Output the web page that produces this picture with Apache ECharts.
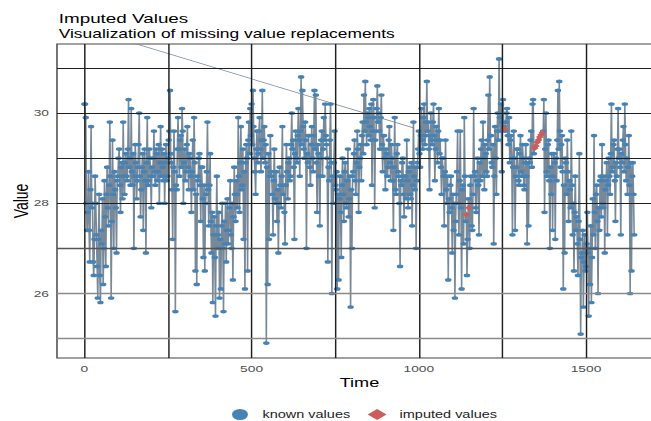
<!DOCTYPE html>
<html>
<head>
<meta charset="utf-8">
<script src="https://cdn.jsdelivr.net/npm/echarts@6/dist/echarts.min.js"></script>
<style>
  html, body { margin: 0; padding: 0; width: 651px; height: 421px; overflow: hidden; background: #ffffff; }
  /* the plot is laid out narrow and stretched horizontally */
  #chart { width: 500px; height: 421px; transform: scaleX(1.45); transform-origin: 0 0; }
</style>
</head>
<body>
<div id="chart"></div>
<script>
// Observed series, one reading every 2 time units (null = missing reading)
const timeStep = 2;
const knownValues = [
  30.2, 30.2, 29.9, 28.0, 27.4, 27.8, 28.7, 27.4, 26.7, 28.3, 29.7, 27.9, 28.0, 26.7, 26.4, 27.2, 28.6, 28.0, 27.3, 26.6,
  25.9, 27.2, 28.2, 26.4, 25.8, 27.4, 27.1, 28.1, 26.2, 27.0, 28.5, 27.7, 26.6, 28.2, 28.8, 27.9, 27.5, 28.4, 29.8, 28.6,
  25.9, 27.6, 29.4, 28.2, 27.0, 28.7, 28.3, 27.9, 26.9, 28.5, 28.6, 29.0, 29.2, 28.4, 27.8, 28.8, 28.9, 28.1, 29.8, 28.6,
  28.2, 28.9, 29.1, 28.6, 28.5, 29.2, 30.3, 28.8, 29.0, 28.4, 30.1, 28.7, 28.4, 29.1, 27.0, 28.6, 29.3, 28.9, 28.1, 28.5,
  28.8, 29.3, 30.0, 28.6, 27.7, 28.3, 28.8, 29.1, 27.4, 28.7, 29.2, 28.5, 26.9, 28.9, 29.9, 28.4, 28.5, 29.2, 29.0, 28.6,
  27.9, 28.8, 28.6, 29.0, 29.6, 28.7, 28.4, 29.2, 29.1, 28.5, 28.7, 29.3, 28.0, 28.9, 29.7, 28.6, 29.2, 28.8, 28.5, 29.1,
  28.0, 28.9, 29.3, 28.5, 28.6, 29.0, 29.4, 29.6, 30.5, 29.1, 28.9, 28.3, 27.2, 28.8, 29.6, 28.7, 25.6, 28.4, 28.3, 29.2,
  29.9, 29.2, 28.6, 29.4, 29.5, 28.8, 30.1, 29.6, 28.0, 28.9, 29.2, 28.5, 28.7, 29.3, 29.7, 28.8, 28.3, 29.1, 29.0, 28.6,
  27.8, 28.7, 29.4, 28.3, 29.9, 28.9, 26.5, 28.2, 26.2, 28.6, 28.5, 29.0, 29.1, 28.4, 27.6, 28.8, 28.8, 28.1, 26.8, 28.4,
  26.5, 28.0, 28.2, 28.7, 29.8, 28.3, 27.5, 28.4, 29.1, 27.6, 26.9, 27.8, 25.8, 27.3, 27.7, 26.8, 25.5, 27.5, 28.6, 27.0,
  27.3, 27.8, 25.9, 27.2, 26.1, 27.5, 28.0, 27.0, 25.6, 27.6, 27.1, 28.0, 26.7, 27.4, 28.1, 27.1, 27.4, 27.9, 28.5, 27.3,
  27.0, 28.0, 26.3, 27.7, 28.8, 28.2, 27.6, 28.5, 28.2, 27.9, 29.9, 28.6, 27.8, 28.9, 29.7, 28.3, 28.4, 29.2, 27.2, 28.7,
  26.1, 28.9, 29.3, 29.0, 26.5, 29.4, 29.8, 29.1, 30.1, 29.5, 30.2, 29.3, 30.5, 29.7, 29.0, 28.7, 28.2, 29.2, 29.6, 28.9,
  29.1, 29.6, 29.9, 29.2, 28.7, 29.4, 30.5, 29.0, 29.4, 29.7, 28.9, 29.3, 24.9, 28.8, 26.2, 29.1, 27.2, 28.6, 29.5, 28.7,
  28.6, 28.2, 27.3, 28.5, 29.2, 28.1, 28.0, 28.7, 27.6, 28.3, 26.9, 28.0, 28.8, 28.4, 27.9, 28.6, 29.7, 28.2, 28.4, 27.8,
  27.1, 28.4, 29.3, 28.7, 28.1, 28.9, 29.0, 28.5, 28.6, 29.3, 30.0, 29.2, 29.4, 28.8, 27.2, 29.1, 29.6, 29.0, 28.9, 29.5,
  30.1, 29.4, 28.6, 29.6, 30.8, 29.3, 30.5, 29.7, 29.2, 29.0, 29.8, 29.4, 27.0, 29.1, 28.9, 29.5, 29.5, 28.8, 28.4, 29.3,
  29.7, 29.0, 28.7, 29.5, 30.5, 29.2, 30.4, 28.9, 27.8, 29.3, 29.1, 28.6, 27.5, 29.0, 29.4, 29.6, 28.6, 29.2, 29.9, 29.4,
  30.2, 29.5, 29.3, 29.0, 26.7, 28.8, 28.5, 29.4, 30.2, 28.9, 26.0, 28.6, 28.0, 28.9, 29.6, 28.4, 28.3, 28.7, 26.1, 28.2,
  26.3, 28.1, 28.6, 27.8, 26.8, 28.4, 29.0, 28.2, 27.6, 28.7, 28.9, 28.0, 27.9, 28.5, 29.2, 27.7, 28.1, 28.6, 25.7, 28.3,
  27.0, 28.6, 28.7, 29.1, 29.4, 28.5, 28.2, 28.9, 29.6, 29.2, 27.8, 28.8, 29.0, 29.3, 28.5, 29.5, 29.8, 29.1, 30.4, 29.6,
  30.7, 29.8, 29.3, 30.0, 29.9, 29.5, 30.1, 29.7, 29.4, 30.2, 28.4, 29.6, 30.3, 29.9, 27.9, 29.4, 29.6, 30.1, 30.6, 29.8,
  30.0, 29.6, 29.2, 29.9, 30.4, 29.3, 28.7, 29.5, 29.5, 29.0, 28.3, 29.2, 29.1, 28.6, 28.8, 29.4, 29.7, 28.9, 28.5, 29.3,
  29.0, 28.5, 27.4, 28.8, 29.9, 28.3, 28.2, 29.1, 29.3, 28.7, 28.6, 28.0, 26.6, 28.5, 28.4, 28.9, 29.0, 28.2, 27.7, 28.6,
  28.6, 28.1, 29.4, 28.5, 27.9, 28.7, 28.8, 28.2, 28.1, 28.9, 27.5, 28.4, 29.8, 28.6, 28.3, 28.8, 27.0, 28.5, 28.9, 29.2,
  29.6, 29.1, 28.8, 29.5, 30.1, 29.4, 29.2, 29.9, 30.2, 29.3, 29.5, 29.8, 30.7, 29.6, 29.8, 29.2, 28.3, 29.5, 30.0, 29.4,
  29.3, 29.8, 30.2, 29.5, 28.5, 29.2, 29.7, 29.4, 28.9, 29.6, 30.1, 29.1, 29.4, 28.8, 28.2, 29.0, 29.0, 28.6, 27.5, 28.7,
  29.4, 28.3, 28.0, 28.6, 26.3, 28.1, 27.8, 28.4, 28.6, 27.9, 26.9, 28.2, 27.4, 28.0, 25.9, 27.6, 28.2, 28.7, 29.6, 28.0,
  27.3, 28.5, 29.6, 27.9, 26.1, 28.3, 28.4, 27.1, 29.9, 28.6, 27.6, null, 26.4, 27.2, 28.1, null, 27.0, 28.4, 28.6, 27.5,
  27.4, 28.2, 30.1, 28.6, 28.7, 27.9, 27.8, 28.5, 29.0, 28.4, 27.3, 28.9, 28.5, 29.2, 29.4, 28.6, 29.8, 29.0, 28.3, 29.3,
  29.1, 28.7, 28.6, 29.4, 30.4, 29.2, 30.8, 29.5, 29.5, 28.9, 28.8, 29.3, 27.1, 28.6, 29.7, 29.0, 28.2, 29.6, 30.0, 29.4,
  31.2, 29.9, 29.6, 30.2, 28.7, 29.8, 30.3, 29.7, null, 29.6, 29.8, 30.0, 30.1, 29.5, 29.3, 29.9, 28.9, 29.4, 29.5, 29.0,
  27.3, 28.8, 29.6, 29.0, 27.4, 28.6, 28.8, 29.2, 29.2, 28.5, 28.4, 29.1, 29.5, 28.7, 28.6, 29.3, 29.0, 28.4, 28.3, 28.9,
  29.3, 28.6, 27.1, 28.9, 27.5, 29.0, 28.9, 29.4, 29.6, 28.8, 30.2, 30.3, 29.1, null, null, null, null, null, null, null,
  null, null, null, null, null, null, 29.6, 30.3, 27.8, 29.2, 30.0, 28.7, 28.6, 29.3, 29.4, 28.5, 27.0, 28.8, 28.2, 29.1,
  27.4, 28.6, 29.1, 28.9, 27.2, 29.0, 28.5, 29.4, 30.5, 29.2, 30.7, 29.6, 28.8, 29.3, 29.5, 28.7, 26.1, 28.4, 26.9, 29.0,
  28.9, 28.2, 29.4, 28.7, 27.6, 28.5, 28.3, 27.9, 29.6, 28.4, 27.3, 28.0, 26.5, 27.8, 28.6, 27.4, 27.7, 27.1, 26.4, 27.6,
  29.1, 27.2, 25.1, 26.8, 26.9, 27.4, 25.7, 26.7, 27.3, 26.5, 26.6, 27.1, 27.8, 26.9, 25.5, 27.0, 26.2, 27.5, 25.8, 26.8,
  28.1, 27.3, 29.5, 27.8, 27.0, 28.2, 28.4, 27.6, 26.0, 27.9, 27.4, 28.5, 28.6, 27.7, 29.3, 28.0, 27.9, 28.6, 26.9, 28.3,
  28.5, 28.9, 27.3, 28.4, 29.0, 28.6, 28.2, 29.1, 30.2, 28.7, 28.8, 29.3, 29.4, 28.5, 27.6, 28.9, 28.6, 29.2, 30.1, 29.0,
  29.2, 28.8, 27.3, 29.1, 28.9, 29.4, 29.7, 28.7, 30.2, 29.3, 28.5, 29.0, 28.2, 28.8, 29.5, 28.4, 26.0, 28.9, 26.5, 28.6,
  28.9, 28.2, 27.3
];

// Replacements for the missing readings
const imputedTimes  = [1142, 1150, 1256, 1346, 1350, 1354, 1358, 1362, 1366, 1370];
const imputedValues = [27.75, 27.9, 29.65, 29.22, 29.27, 29.35, 29.40, 29.47, 29.52, 29.57];

// Long connector segment that enters from above the panel
const strayTimes  = [0, 984];
const strayValues = [31.88, 29.67];

// Axis ticks and grid
const xTickValues = [0, 500, 1000, 1500];
const yTickValues = [26, 28, 30];
const xGridValues = [0, 250, 500, 750, 1000, 1250, 1500];
const yGridValues = [25, 26, 27, 28, 29, 30, 31];

const knownPoints = [];
knownValues.forEach((v, i) => { if (v !== null) knownPoints.push([i * timeStep, v]); });
const imputedPoints = imputedTimes.map((t, i) => [t, imputedValues[i]]);
const linePoints = knownPoints.concat(imputedPoints).sort((a, b) => a[0] - b[0]);
const strayPoints = strayTimes.map((t, i) => [t, strayValues[i]]);

const ellipse = 'path://M0,10A10,10 0 1,0 20,10A10,10 0 1,0 0,10Z';
const FONT = 'Liberation Sans, Arial, sans-serif';

const gridLineColor = v => (v >= 28 ? '#1f1f1f' : v === 27 ? '#555555' : '#8a8a8a');

const chart = echarts.init(document.getElementById('chart'), null, { renderer: 'svg' });
chart.setOption({
  animation: false,
  backgroundColor: '#ffffff',
  textStyle: { fontFamily: FONT },
  title: [
    { text: 'Imputed Values', left: 35.5, top: 7,
      textStyle: { fontSize: 13, fontWeight: 'normal', color: '#000', fontFamily: FONT } },
    { text: 'Visualization of missing value replacements', left: 35.5, top: 22.5,
      textStyle: { fontSize: 12, fontWeight: 'normal', color: '#000', fontFamily: FONT } }
  ],
  grid: { left: 39.3, top: 44, width: 417.2, height: 314, show: true, outerBoundsMode: 'none',
          borderColor: '#444', borderWidth: 1, backgroundColor: '#fff' },
  legend: {
    left: 155, top: 404, itemGap: 12, itemWidth: 13, itemHeight: 11,
    textStyle: { fontSize: 10, color: '#222', fontFamily: FONT, padding: [0, 0, 0, 4] },
    data: [
      { name: 'known values', icon: ellipse },
      { name: 'imputed values', icon: 'diamond' }
    ]
  },
  xAxis: {
    type: 'value', min: -82, max: 1727,
    name: 'Time', nameLocation: 'middle', nameGap: 18, nameMoveOverlap: false,
    nameTextStyle: { fontSize: 12.5, color: '#000', fontFamily: FONT },
    axisLine: { show: false }, axisTick: { show: false }, splitLine: { show: false },
    axisLabel: { customValues: xTickValues, margin: 6, fontSize: 9.5, color: '#4d4d4d', fontFamily: FONT,
                 formatter: v => String(v) }
  },
  yAxis: {
    type: 'value', min: 24.57, max: 31.53,
    name: 'Value', nameLocation: 'middle', nameRotate: 90, nameGap: 18, nameMoveOverlap: false,
    nameTextStyle: { fontSize: 14, color: '#000', fontFamily: FONT },
    axisLine: { show: false }, axisTick: { show: false }, splitLine: { show: false },
    axisLabel: { customValues: yTickValues, margin: 5.5, fontSize: 9.5, color: '#4d4d4d', fontFamily: FONT,
                 formatter: v => String(v) }
  },
  series: [
    {
      type: 'line', z: 1, data: strayPoints, symbol: 'none', clip: true, silent: true,
      lineStyle: { color: '#778899', width: 0.7 },
      markLine: {
        silent: true, symbol: ['none', 'none'], label: { show: false }, animation: false,
        data: xGridValues.map(v => ({ xAxis: v, lineStyle: { color: '#1f1f1f', width: 1, type: 'solid' } }))
          .concat(yGridValues.map(v => ({ yAxis: v, lineStyle: { color: gridLineColor(v), width: v >= 28 ? 1 : 1.3, type: 'solid' } })))
      }
    },
    {
      type: 'line', z: 2, data: linePoints, symbol: 'none', clip: true, silent: true,
      lineStyle: { color: '#778899', width: 1.1 }
    },
    {
      name: 'known values', type: 'scatter', z: 3, data: knownPoints,
      symbol: ellipse, symbolSize: [4.5, 3.7], itemStyle: { color: '#4682B4', opacity: 1 }
    },
    {
      name: 'imputed values', type: 'scatter', z: 4, data: imputedPoints,
      symbol: 'diamond', symbolSize: [5.5, 5.5], itemStyle: { color: '#CD5C5C', opacity: 1 }
    }
  ]
});
</script>
</body>
</html>
